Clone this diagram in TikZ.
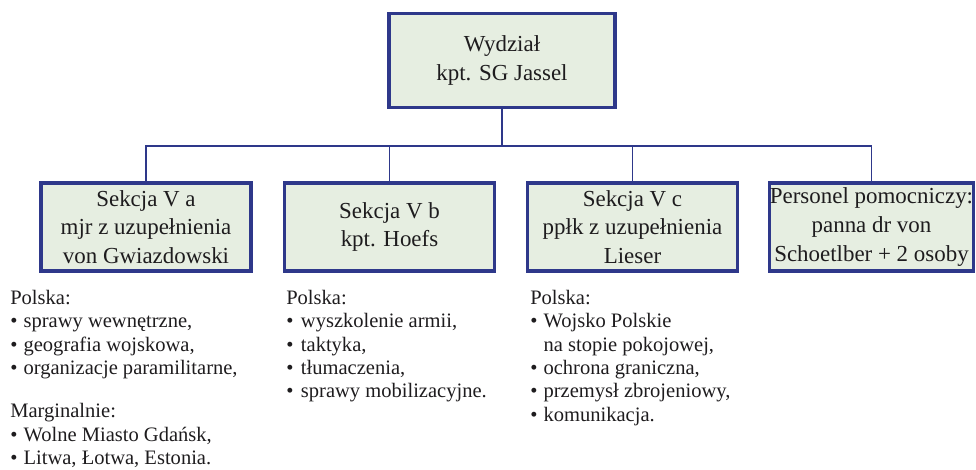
\documentclass[tikz,border=0pt]{standalone}
\usepackage{fontspec}
\setmainfont{Liberation Serif}
\definecolor{navy}{RGB}{46,56,138}
\definecolor{boxfill}{RGB}{230,238,225}
\definecolor{ink}{RGB}{30,28,30}
\newcommand{\itemmark}[1]{\makebox[#1][l]{•}}
\begin{document}
\begin{tikzpicture}[x=0.75pt,y=-0.75pt,
  unit/.style={draw=navy,line width=2.3pt,fill=boxfill,align=center,
    text=ink,inner sep=0pt,minimum height=66pt,
    font=\fontsize{17.2}{21.4}\selectfont},
  link/.style={draw=navy,line width=1.1pt},
  duties/.style={align=left,anchor=north west,inner sep=0pt,text=ink,
    font=\fontsize{15.4}{17.5}\selectfont}]
\useasboundingbox (0,0) rectangle (976,470);

% head of the department
\node[unit,minimum width=169.5pt,minimum height=71pt] (head) at (502,60.5)
  {Wydział\\kpt. SG Jassel};

% sections
\node[unit,minimum width=157.5pt] (va) at (146,227)
  {Sekcja V a\\mjr z uzupełnienia\\von Gwiazdowski};
\node[unit,minimum width=158pt] (vb) at (389.5,227)
  {Sekcja V b\\kpt. Hoefs};
\node[unit,minimum width=157pt] (vc) at (632.5,227)
  {Sekcja V c\\ppłk z uzupełnienia\\Lieser};
\node[unit,minimum width=152pt] (staff) at (871.5,227)
  {Personel pomocniczy:\\panna dr von\\Schoetlber + 2 osoby};

% connectors
\coordinate (bus) at (502,146);
\draw[link] (head.south) -- (bus);
\draw[link] (va.north) |- (bus);
\draw[link] (vb.north) |- (bus);
\draw[link] (vc.north) |- (bus);
\draw[link] (staff.north) |- (bus);

% responsibilities
\node[duties] (lista) at (10,290)
  {Polska:\\
   \itemmark{10pt}sprawy wewnętrzne,\\
   \itemmark{10pt}geografia wojskowa,\\
   \itemmark{10pt}organizacje paramilitarne,\\[15pt]
   Marginalnie:\\
   \itemmark{10pt}Wolne Miasto Gdańsk,\\
   \itemmark{10pt}Litwa, Łotwa, Estonia.};
\node[duties] (listb) at (286,290)
  {Polska:\\
   \itemmark{11pt}wyszkolenie armii,\\
   \itemmark{11pt}taktyka,\\
   \itemmark{11pt}tłumaczenia,\\
   \itemmark{11pt}sprawy mobilizacyjne.};
\node[duties] (listc) at (530,290)
  {Polska:\\
   \itemmark{10pt}Wojsko Polskie\\
   \hspace*{10pt}na stopie pokojowej,\\
   \itemmark{10pt}ochrona graniczna,\\
   \itemmark{10pt}przemysł zbrojeniowy,\\
   \itemmark{10pt}komunikacja.};
\end{tikzpicture}
\end{document}
